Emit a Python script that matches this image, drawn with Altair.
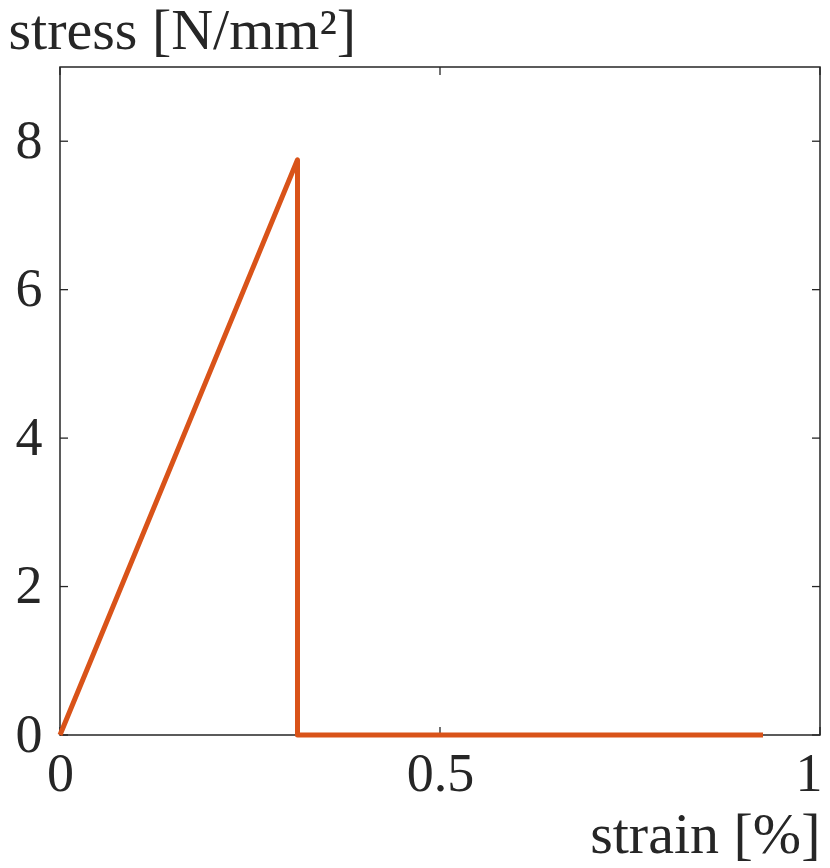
import altair as alt
import pandas as pd

strain = [0.0, 0.3125, 0.3125, 0.925]
stress = [0.0, 7.75, 0.0, 0.0]
order = [0, 1, 2, 3]

x_ticks = [0, 0.5, 1]
y_ticks = [0, 2, 4, 6, 8]

W, H = 760, 668
TICK = 8
FONT = "Liberation Serif"
AX = "#262626"
LINE = "#D95319"

df = pd.DataFrame({"strain": strain, "stress": stress, "order": order})
xt = pd.DataFrame({"v": x_ticks})
yt = pd.DataFrame({"v": y_ticks})

xs = alt.Scale(domain=[0, 1], nice=False, zero=False)
ys = alt.Scale(domain=[0, 9], nice=False, zero=False)

line = alt.Chart(df).mark_line(color=LINE, strokeWidth=5, strokeJoin="round", strokeCap="butt").encode(
    x=alt.X("strain:Q", scale=xs, axis=alt.Axis(
        values=x_ticks, title="strain [%]", labelFont=FONT, labelFontSize=54, labelColor=AX,
        labelBaseline="alphabetic", labelPadding=55, ticks=False, tickSize=0, domain=False, grid=False,
        labelExpr="datum.value == 0 ? '0' : datum.value == 1 ? '1' : format(datum.value, '.1f')",
        labelAlign={"condition": {"test": "datum.value == 1", "value": "right"}, "value": "center"},
        labelOffset={"condition": {"test": "datum.value == 1", "value": 2}, "value": 0},
        titleFont=FONT, titleFontSize=58, titleFontWeight="normal", titleColor=AX,
        titleX=W, titleY=117, titleAlign="right", titleBaseline="alphabetic", labelFlush=False)),
    y=alt.Y("stress:Q", scale=ys, axis=alt.Axis(
        values=y_ticks, format="d", title="stress [N/mm²]", labelFont=FONT, labelFontSize=54, labelColor=AX,
        labelPadding=18, ticks=False, tickSize=0, domain=False, grid=False, labelBaseline="middle",
        titleFont=FONT, titleFontSize=58, titleFontWeight="normal", titleColor=AX, titleAngle=0,
        titleX=-52, titleY=-19, titleAlign="left", titleBaseline="alphabetic", labelFlush=False)),
    order="order:O",
)

xb = alt.Chart(xt).mark_rule(color=AX, strokeWidth=1.3).encode(
    x=alt.X("v:Q", scale=xs), y=alt.value(H), y2=alt.value(H - TICK))
xtop = alt.Chart(xt).mark_rule(color=AX, strokeWidth=1.3).encode(
    x=alt.X("v:Q", scale=xs), y=alt.value(0), y2=alt.value(TICK))
yl = alt.Chart(yt).mark_rule(color=AX, strokeWidth=1.3).encode(
    y=alt.Y("v:Q", scale=ys), x=alt.value(0), x2=alt.value(TICK))
yr = alt.Chart(yt).mark_rule(color=AX, strokeWidth=1.3).encode(
    y=alt.Y("v:Q", scale=ys), x=alt.value(W), x2=alt.value(W - TICK))

chart = alt.layer(xb, xtop, yl, yr, line).properties(
    width=W, height=H,
    autosize=alt.AutoSizeParams(type="none"),
    padding={"left": 52, "top": 59, "right": 2, "bottom": 132},
).configure(background="white").configure_view(stroke=AX, strokeWidth=1.5)

chart.save("out.html", embed_options={"renderer": "svg", "actions": False})
